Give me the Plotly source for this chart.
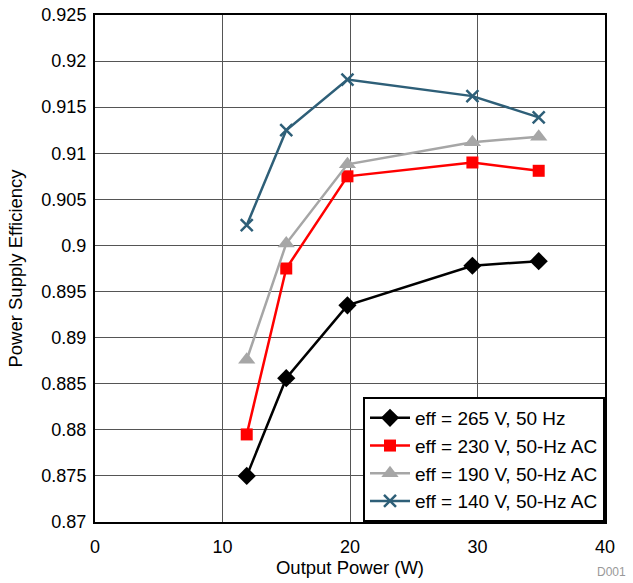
import plotly.graph_objects as go

power = [11.9, 15.0, 19.8, 29.6, 34.8]
eff_265 = [0.8750, 0.8856, 0.8935, 0.8978, 0.8983]
eff_230 = [0.8795, 0.8975, 0.9075, 0.9090, 0.9081]
eff_190 = [0.8876, 0.9002, 0.9088, 0.9112, 0.9118]
eff_140 = [0.9022, 0.9125, 0.9180, 0.9162, 0.9139]

names = ["eff = 265 V, 50 Hz", "eff = 230 V, 50-Hz AC",
         "eff = 190 V, 50-Hz AC", "eff = 140 V, 50-Hz AC"]
series = [eff_265, eff_230, eff_190, eff_140]
colors = ["#000000", "#FF0000", "#A6A6A6", "#2E5F78"]
symbols = ["diamond", "square", "triangle-up", "x-thin"]
sizes = [14, 12, 15, 12]

fig = go.Figure()
for n, s, c, sym, sz in zip(names, series, colors, symbols, sizes):
    marker = dict(symbol=sym, size=sz, color=c)
    if sym == "x-thin":
        marker["line"] = dict(color=c, width=2.5)
    fig.add_trace(go.Scatter(x=power, y=s, name=n, mode="lines+markers",
                             line=dict(color=c, width=2.5), marker=marker))

fig.update_layout(
    width=633, height=583,
    margin=dict(l=95, r=28, t=15, b=61),
    paper_bgcolor="white", plot_bgcolor="white",
    font=dict(family="Liberation Sans, Arial", size=18, color="#000"),
    legend=dict(x=1, y=0, xanchor="right", yanchor="bottom",
                bgcolor="white", bordercolor="black", borderwidth=2,
                font=dict(size=19), tracegroupgap=0, itemwidth=40),
    showlegend=True,
)
fig.update_xaxes(range=[0, 40], dtick=10, showgrid=True, gridcolor="#555555", gridwidth=1,
                 showline=True, linecolor="black", linewidth=2, mirror=True,
                 ticks="", ticklabelstandoff=7, automargin=False,
                 title=dict(text="Output Power (W)", standoff=4, font=dict(size=18.5)),
                 zeroline=False)
fig.update_yaxes(range=[0.87, 0.925], dtick=0.005, showgrid=True, gridcolor="#555555", gridwidth=1,
                 showline=True, linecolor="black", linewidth=2, mirror=True,
                 ticks="", ticklabelstandoff=3, automargin=False,
                 title=dict(text="Power Supply Efficiency", standoff=14, font=dict(size=18.5)),
                 zeroline=False, tickformat="~g")
fig.add_annotation(text="D001", xref="paper", yref="paper", x=1.045, y=-0.0996,
                   xanchor="right", yanchor="middle", showarrow=False,
                   font=dict(size=12, color="#999999"))
fig.write_html("out.html", config={"displayModeBar": False},
               post_script="document.body.style.margin='0';")
